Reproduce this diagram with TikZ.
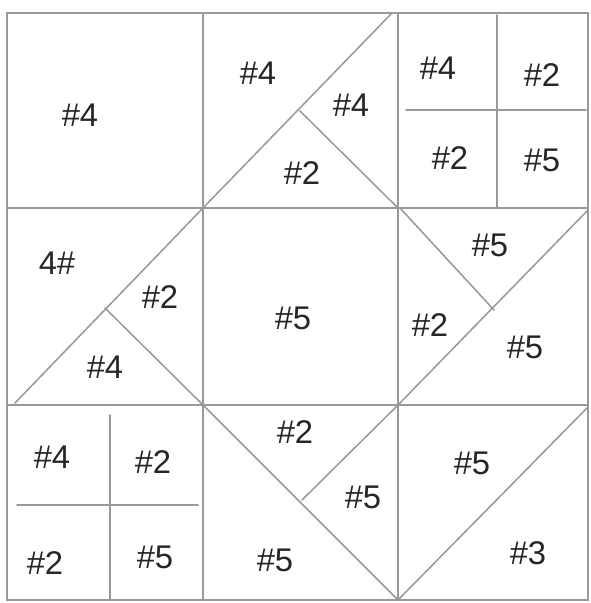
\documentclass[tikz,border=0pt]{standalone}
\usepackage{fontspec}
\newfontfamily\handfont{Liberation Sans}
\tikzset{
  seam/.style  = {draw=black!40, line width=1.3pt, line cap=round},
  piece/.style = {font=\handfont\fontsize{28}{30}\selectfont, text=black!85, inner sep=0}
}

\begin{document}
\begin{tikzpicture}[x=0.03cm,y=-0.03cm]
  \useasboundingbox (0,0) rectangle (591,603);

  % outer frame and the 3x3 grid
  \draw[seam] (7,13) rectangle (588,600);
  \draw[seam] (203,13)--(203,600);  \draw[seam] (398,13)--(398,600);
  \draw[seam] (7,208)--(588,208);   \draw[seam] (7,405)--(588,405);

  % top row
  \node[piece] (r1a) at (80,115) {\#4};
  \draw[seam] (203,208)--(392,13); \draw[seam] (300,111)--(398,208);
  \node[piece] (r1b) at (258,73)  {\#4};
  \node[piece] (r1c) at (351,105) {\#4};
  \node[piece] (r1d) at (302,173) {\#2};
  \draw[seam] (497,15)--(497,208); \draw[seam] (406,110)--(586,110);
  \node[piece] (r1e) at (438,68)  {\#4};
  \node[piece] (r1f) at (542,75)  {\#2};
  \node[piece] (r1g) at (450,158) {\#2};
  \node[piece] (r1h) at (542,160) {\#5};

  % middle row
  \draw[seam] (15,403)--(203,208); \draw[seam] (105,308)--(203,405);
  \node[piece] (r2a) at (57,263)  {4\#};
  \node[piece] (r2b) at (160,297) {\#2};
  \node[piece] (r2c) at (105,367) {\#4};
  \node[piece] (r2d) at (293,318) {\#5};
  \draw[seam] (398,405)--(588,210); \draw[seam] (400,208)--(494,310);
  \node[piece] (r2e) at (490,245) {\#5};
  \node[piece] (r2f) at (430,325) {\#2};
  \node[piece] (r2g) at (525,347) {\#5};

  % bottom row
  \draw[seam] (110,415)--(110,600); \draw[seam] (17,505)--(198,505);
  \node[piece] (r3a) at (52,457)  {\#4};
  \node[piece] (r3b) at (153,462) {\#2};
  \node[piece] (r3c) at (45,563)  {\#2};
  \node[piece] (r3d) at (155,557) {\#5};
  \draw[seam] (203,405)--(398,600); \draw[seam] (302,500)--(398,405);
  \node[piece] (r3e) at (295,432) {\#2};
  \node[piece] (r3f) at (363,497) {\#5};
  \node[piece] (r3g) at (275,560) {\#5};
  \draw[seam] (398,600)--(588,407);
  \node[piece] (r3h) at (472,463) {\#5};
  \node[piece] (r3i) at (528,553) {\#3};

\end{tikzpicture}
\end{document}
